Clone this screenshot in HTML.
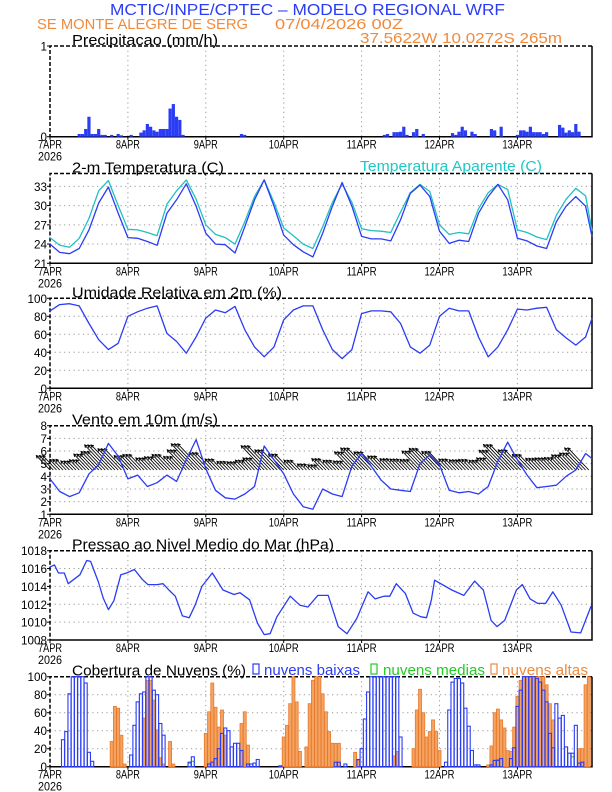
<!DOCTYPE html>
<html><head><meta charset="utf-8"><style>
html,body{margin:0;padding:0;background:#fff;}
svg{display:block;font-family:"Liberation Sans",sans-serif;}
</style></head><body>
<svg id="chart" width="612" height="792" viewBox="0 0 612 792" xmlns="http://www.w3.org/2000/svg">
<text x="110" y="15" font-size="16" fill="#2a3cf5" textLength="395" lengthAdjust="spacingAndGlyphs">MCTIC/INPE/CPTEC – MODELO REGIONAL WRF</text>
<text x="37" y="29" font-size="15" fill="#f08a3c" textLength="211" lengthAdjust="spacingAndGlyphs">SE MONTE ALEGRE DE SERG</text>
<text x="275" y="29" font-size="15" fill="#f08a3c" textLength="128" lengthAdjust="spacingAndGlyphs">07/04/2026 00Z</text>
<text x="360" y="43" font-size="15" fill="#f08a3c" textLength="202" lengthAdjust="spacingAndGlyphs">37.5622W 10.0272S 265m</text>
<g id="g"></g>
</svg>
<script>
// ---------- data ----------
const dayLabels = ["7APR","8APR","9APR","10APR","11APR","12APR","13APR"];
const precipHours = [9,10,11,12,13,14,15,16,17,19,21,22,25,28,29,30,31,32,33,34,35,36,37,38,39,40,41,59,60,103,104,106,107,108,109,110,112,113,115,124,125,126,127,128,130,131,136,137,139,144,145,146,147,148,149,150,151,152,153,157,158,159,160,161,162,163];
const precipVals  = [0.03,0.03,0.085,0.22,0.03,0.03,0.085,0.02,0.02,0.02,0.03,0.015,0.02,0.045,0.07,0.14,0.11,0.07,0.055,0.085,0.085,0.085,0.31,0.36,0.22,0.185,0.02,0.03,0.02,0.02,0.03,0.05,0.05,0.055,0.11,0.02,0.05,0.085,0.03,0.04,0.02,0.055,0.11,0.07,0.055,0.03,0.085,0.07,0.11,0.02,0.07,0.07,0.055,0.11,0.05,0.05,0.05,0.03,0.05,0.13,0.1,0.045,0.07,0.05,0.14,0.055,0.03];
const hours3 = [0,3,6,9,12,15,18,21,24,27,30,33,36,39,42,45,48,51,54,57,60,63,66,69,72,75,78,81,84,87,90,93,96,99,102,105,108,111,114,117,120,123,126,129,132,135,138,141,144,147,150,153,156,159,162,165,167];
const tempVals = [24.0,22.7,22.5,23.3,26.2,30.4,32.9,28.8,25.0,24.9,24.4,23.8,28.8,30.9,33.4,29.9,25.7,24.0,23.9,22.6,26.7,30.9,34.0,29.9,25.4,23.9,22.8,22.0,25.7,29.9,33.6,29.9,25.2,24.8,24.8,24.5,27.8,31.9,33.2,31.4,26.0,24.1,24.6,24.4,28.8,31.4,33.3,30.9,24.9,24.5,23.7,23.3,27.5,29.9,31.4,29.9,25.1];
const appTempVals = [25.0,23.8,23.5,24.9,28.0,32.3,33.9,30.0,26.3,26.2,25.8,25.3,30.2,32.3,34.0,31.0,27.0,25.5,25.0,24.0,27.5,31.4,34.0,30.5,26.5,25.3,24.0,23.3,26.7,30.5,33.4,30.5,26.4,26.1,26.0,25.8,29.0,32.0,33.3,32.2,27.0,25.5,25.8,25.6,29.5,32.0,33.3,32.5,26.2,25.8,25.1,24.7,28.5,31.0,32.7,31.5,26.0];
const rhVals = [86,93,94,91.5,72,54,43,50,80,85,89,91.5,61,52,39,57,78,87,84,91,65,46,35,46,76,87,91.5,91.5,65,43,33,43,83,86,86,85,72,46,39,48,80,89,86,86,57,35,46,65,88,87,89,90,65,56,48,57,78];
const windVals = [3.8,2.8,2.4,2.7,4.2,4.9,6.6,5.6,3.8,4.1,3.2,3.5,4.1,3.6,5.3,6.9,4.6,2.9,2.3,2.2,2.6,3.2,6.4,5.3,4.2,2.6,1.6,1.4,3.0,2.6,2.4,4.8,5.8,4.8,3.7,3.0,2.9,2.8,5.0,5.7,4.9,2.9,2.7,2.8,2.6,3.2,5.2,6.7,5.3,4.1,3.1,3.2,3.3,4.0,4.5,5.8,5.4];
const pressHours = [0,1.4,2.6,4.4,5.6,9.2,11.3,12.5,14.9,16.4,18,19.7,21.8,23.6,26,28.4,30.2,33,34.8,36.9,38.6,40.8,42.9,44.7,46.8,50,53.3,56.7,58.5,61.5,63.9,66,67.8,69.9,74,77,79.5,82.5,85.7,88.8,91.5,94.5,98,100.2,102.9,104.7,106.7,109.5,111.9,114.3,116,117.5,118.5,123.8,127.5,130.8,133.5,135.9,137.7,140.1,143.7,145.5,147.9,150.3,152.7,154.9,157.5,160.5,163.5,166.7];
const pressVals = [1016.2,1016.4,1015.5,1015.5,1014.3,1015.3,1016.9,1016.8,1014.5,1012.7,1011.4,1012.4,1015.3,1015.5,1015.9,1014.8,1014.2,1014.2,1014.3,1013.5,1012.9,1010.7,1010.5,1011.9,1014.0,1015.5,1013.6,1013.1,1013.3,1012.5,1009.9,1008.6,1008.7,1010.6,1012.9,1011.9,1011.7,1013.0,1013.0,1009.5,1008.7,1010.4,1013.4,1012.6,1012.9,1012.9,1014.3,1013.2,1011.0,1010.6,1010.5,1012.5,1014.7,1013.6,1013.0,1014.6,1013.6,1010.2,1009.5,1010.2,1013.6,1014.2,1012.6,1012.1,1012.1,1013.4,1011.9,1008.9,1008.8,1011.8];
const lowHours = [4,5,6,7,8,9,10,11,12,13,25,26,27,28,29,30,31,32,33,34,35,43,44,49,50,51,52,53,54,55,56,57,58,59,61,62,63,64,71,88,89,91,95,96,97,98,99,100,101,102,103,104,105,106,107,108,122,123,124,125,126,127,128,129,130,131,132,136,137,138,139,142,143,144,145,146,147,148,149,150,151,152,153,154,155,156,157,158,159,160,161,162,163,164];
const lowVals  = [30,39,81,100,100,100,100,93,16,6,13,46,72,81,83,100,100,85,80,48,35,5,11,3,5,9,20,37,43,40,22,26,26,18,3,3,4,8,1,5,5,3,8,20,53,83,100,100,100,100,100,100,100,100,100,33,5,63,94,98,98,93,65,45,18,2,2,2,7,7,9,9,21,67,85,100,100,100,100,98,94,85,72,37,21,70,54,57,22,15,15,46,4,5];
const highHours = [19,20,21,22,23,29,30,31,32,33,34,35,37,38,48,49,50,51,52,53,54,59,60,61,72,73,74,75,76,77,79,80,81,82,83,84,85,86,87,88,89,94,95,106,107,112,113,114,115,116,117,118,119,120,135,136,137,138,139,140,141,142,143,144,145,146,147,148,149,150,151,152,153,154,155,163,164,165,166];
const highVals  = [28,67,65,35,3,54,96,96,74,41,10,3,28,3,37,61,93,66,44,63,35,48,61,24,33,46,70,100,72,17,22,70,96,100,100,81,61,39,26,26,26,16,7,12,17,20,63,86,60,33,39,52,39,18,2,23,60,64,52,43,18,17,44,78,96,100,100,100,100,100,100,100,91,70,52,20,20,91,100,100];
const medHours = [43,44,138,161];
const medVals  = [4,6,8,11];
const tempTicks = [21,24,27,30,33];
const rhTicks = [0,20,40,60,80,100];
const windTicks = [1,2,3,4,5,6,7,8];
const pressTicks = [1008,1010,1012,1014,1016,1018];
const cloudTicks = [0,20,40,60,80,100];
const precipTicks = [0,1];

// ---------- drawing ----------
const NS="http://www.w3.org/2000/svg";
const G=document.getElementById('g');
const X0=50, DAY=77.9, XR=592;
function xh(h){return X0+h*DAY/24;}
function el(tag,attrs,parent){const e=document.createElementNS(NS,tag);for(const k in attrs)e.setAttribute(k,attrs[k]);(parent||G).appendChild(e);return e;}
function mkY(top,bot,min,max){return v=>bot-(v-min)/(max-min)*(bot-top);}
function txt(s,x,y,size,fill,anchor,len,name){const t=el('text',{x:x,y:y,'font-size':size,fill:fill,'text-anchor':anchor||'start'});if(len){t.setAttribute('textLength',len);t.setAttribute('lengthAdjust','spacingAndGlyphs');}t.textContent=s;


return t;}

function panel(name,top,bot,ticks,y,hgrid,title,titleLen){
  const g=el('g',{});
  
  
  for(let d=1;d<7;d++){const l=el('line',{x1:xh(d*24),x2:xh(d*24),y1:top,y2:bot,stroke:'#999','stroke-width':1,'stroke-dasharray':'1.2,3.5'},g);
    
    }
  ticks.forEach(t=>{
    const yy=y(t);
    if(hgrid && yy>top+1 && yy<bot-1){const l=el('line',{x1:X0,x2:XR,y1:yy,y2:yy,stroke:'#999','stroke-width':1,'stroke-dasharray':'1.2,3.5'},g);
      
      }
    el('line',{x1:X0-3,x2:X0,y1:yy,y2:yy,stroke:'#000'},g);
    const s=String(t);
    txt(s,X0-3,yy+4.5,12,'#000','end',s.length*6.5,'y-tick-label');
  });
  const f=el('path',{d:`M${X0},${bot}H${XR}V${top}`,fill:'none',stroke:'#000','stroke-width':1.5},g);
  
  
  el('path',{d:`M${XR},${top}H${X0}V${bot}`,fill:'none',stroke:'#000','stroke-width':1.5,'stroke-dasharray':'4,2'},g);
  dayLabels.forEach((s,i)=>{const xx=xh(i*24);el('line',{x1:xx,x2:xx,y1:bot,y2:bot+3,stroke:'#000'},g);
    txt(s,xx,bot+12,12,'#000','middle',s.length*6,'x-date-label');});
  txt('2026',X0,bot+24,12,'#000','middle',24,'x-year-label');
  txt(title,72,top-1,15,'#000','start',titleLen,name+'-title');
  return g;
}
function line(g,hs,vs,y,color,name){
  const d=hs.map((h,i)=>(i?'L':'M')+xh(h).toFixed(1)+','+y(vs[i]).toFixed(1)).join('');
  const p=el('path',{d:d,fill:'none',stroke:color,'stroke-width':1.3,'stroke-linejoin':'round'},g);
  
  
}

let y1=mkY(46,136.7,0,1);
let g1=panel('precip',46,136.7,precipTicks,y1,false,'Precipitacao (mm/h)',146);
precipHours.forEach((h,i)=>{const b=el('rect',{x:xh(h)-1.6,y:y1(precipVals[i]),width:3.2,height:y1(0)-y1(precipVals[i]),fill:'#2a3cf5'},g1);
  
  });

let y2=mkY(173.5,263.3,21,35);
let g2=panel('temperature',173.5,263.3,tempTicks,y2,true,'2-m Temperatura (C)',152);
txt('Temperatura Aparente (C)',360,171,15,'#1ec8c8','start',182,'apparent-temp-legend');
line(g2,hours3,appTempVals,y2,'#20c0c0','apparent-temp-line');
line(g2,hours3,tempVals,y2,'#2a3cf5','temp-line');

let y3=mkY(298.3,388.3,0,100);
let g3=panel('humidity',298.3,388.3,rhTicks,y3,true,'Umidade Relativa em 2m (%)',210);
line(g3,hours3,rhVals,y3,'#2a3cf5','rh-line');

let y4=mkY(425.7,514.3,1,8);
let g4=panel('wind',425.7,514.3,windTicks,y4,true,'Vento em 10m (m/s)',146);
const baseY=y4(4.5);
hours3.forEach((h,i)=>{
  for(let k=0;k<3;k++){
    const hh=h+k; if(hh>166) continue;
    const s=windVals[i];
    const x1=xh(hh), x2=x1-s*3.6, y2a=baseY-s*3.8;
    const a=el('line',{x1:x1,y1:baseY,x2:x2,y2:y2a,stroke:'#000','stroke-width':0.9},g4);
    
    
    const ang=Math.atan2(y2a-baseY,x2-x1);
    const hx1=x2-3*Math.cos(ang-0.5),hy1=y2a-3*Math.sin(ang-0.5),hx2=x2-3*Math.cos(ang+0.5),hy2=y2a-3*Math.sin(ang+0.5);
    el('path',{d:`M${hx1},${hy1}L${x2},${y2a}L${hx2},${hy2}`,fill:'none',stroke:'#000','stroke-width':0.9},g4);
  }
});
line(g4,hours3,windVals,y4,'#2a3cf5','wind-speed-line');

let y5=mkY(550.7,640,1008,1018);
let g5=panel('pressure',550.7,640,pressTicks,y5,true,'Pressao ao Nivel Medio do Mar (hPa)',262);
line(g5,pressHours,pressVals,y5,'#2a3cf5','pressure-line');

let y6=mkY(676.7,766.7,0,100);
let g6=panel('cloud',676.7,766.7,cloudTicks,y6,true,'Cobertura de Nuvens (%)',174);
function legendBox(x,c,name){const r=el('rect',{x:x,y:664,width:6,height:10,fill:'none',stroke:c,'stroke-width':1.2});
  
  }
legendBox(253,'#2a3cf5','legend-box-low');
txt('nuvens baixas',264,675,15,'#2a3cf5','start',96,'legend-low-clouds');
legendBox(371,'#22cc22','legend-box-medium');
txt('nuvens medias',383,675,15,'#22cc22','start',102,'legend-medium-clouds');
legendBox(491,'#f08a3c','legend-box-high');
txt('nuvens altas',502,675,15,'#f08a3c','start',86,'legend-high-clouds');
highHours.forEach((h,i)=>{const v=highVals[i];const b=el('rect',{x:xh(h)-1.5,y:y6(v),width:3,height:y6(0)-y6(v),fill:'#f4a460',stroke:'#e8782c','stroke-width':0.8},g6);
  
  });
medHours.forEach((h,i)=>{const v=medVals[i];const b=el('rect',{x:xh(h)-1.5,y:y6(v),width:3,height:y6(0)-y6(v),fill:'none',stroke:'#22cc22','stroke-width':1},g6);
  
  });
lowHours.forEach((h,i)=>{const v=lowVals[i];const b=el('rect',{x:xh(h)-1.5,y:y6(v),width:3,height:y6(0)-y6(v),fill:'none',stroke:'#2a3cf5','stroke-width':1.1},g6);
  
  });
</script>
</body></html>
